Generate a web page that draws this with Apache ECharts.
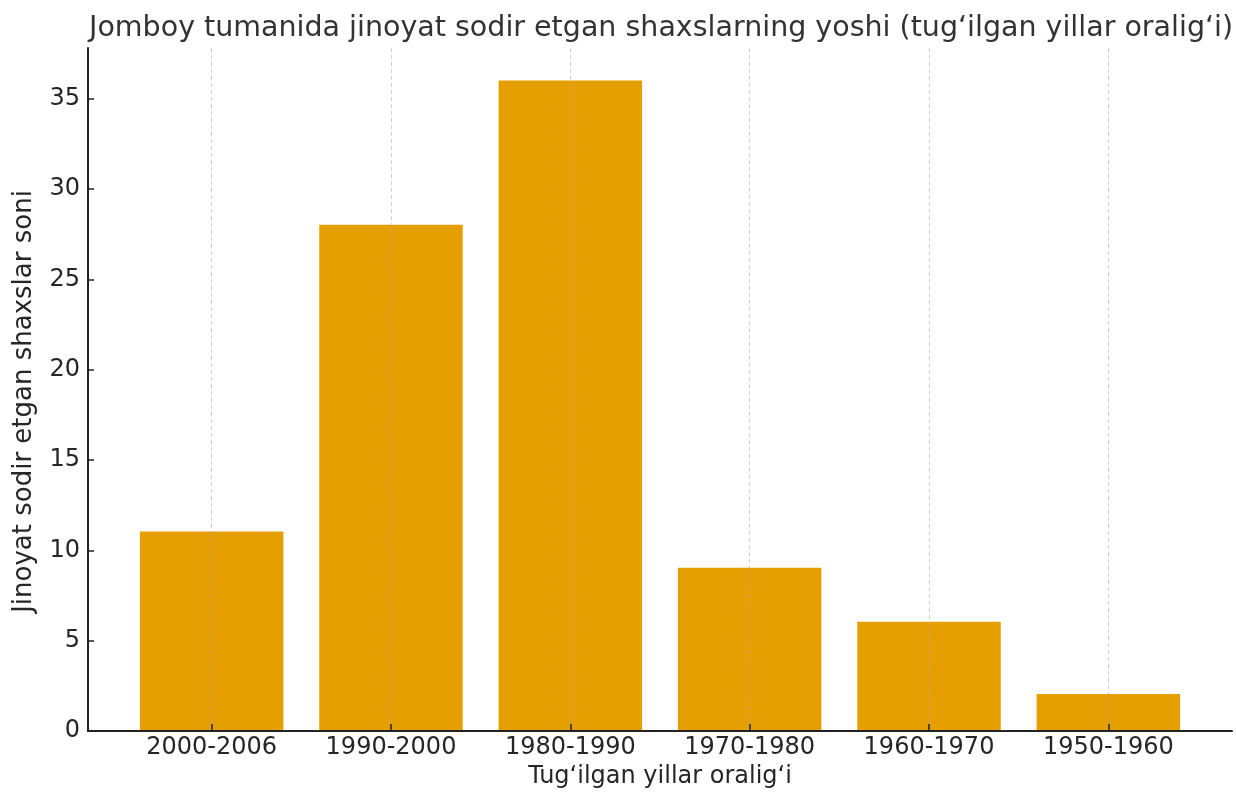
<!DOCTYPE html>
<html>
<head>
<meta charset="utf-8">
<script src="https://cdn.jsdelivr.net/npm/echarts@6/dist/echarts.min.js"></script>
<style>
  html, body { margin: 0; padding: 0; background: #fff; }
  #chart { width: 1236px; height: 794px; }
</style>
</head>
<body>
<div id="chart"></div>
<script>
// ma'lumotlar
const categories = ['2000-2006', '1990-2000', '1980-1990', '1970-1980', '1960-1970', '1950-1960'];
const counts = [11, 28, 36, 9, 6, 2];
const yTicks = [0, 5, 10, 15, 20, 25, 30, 35];
const yMax = 37.8;

const FONT = 'DejaVu Sans';
const TXT = '#262626';

const chart = echarts.init(document.getElementById('chart'));

const option = {
  textStyle: { fontFamily: FONT },
  title: {
    text: 'Jomboy tumanida jinoyat sodir etgan shaxslarning yoshi (tug\u2018ilgan yillar oralig\u2018i)',
    left: 84,
    top: 9,
    textStyle: { fontFamily: FONT, fontSize: 28.5, fontWeight: 'normal', color: '#333' }
  },
  grid: [
    // tashqi chegara (o'qlar chizig'i)
    { left: 88, right: 4, top: 48, bottom: 63 },
    // ustunlar uchun ichki maydon
    { left: 122, right: 38, top: 48, bottom: 63 }
  ],
  xAxis: [
    {
      type: 'value', gridIndex: 0, min: 0, max: 1,
      axisLine: { show: true, lineStyle: { color: '#222', width: 2 } },
      axisTick: { show: false }, axisLabel: { show: false }, splitLine: { show: false }
    },
    {
      type: 'category', gridIndex: 1, data: categories, z: 5,
      name: 'Tug\u2018ilgan yillar oralig\u2018i',
      nameLocation: 'middle', nameGap: 32,
      nameTextStyle: { fontFamily: FONT, fontSize: 24, color: TXT },
      axisLine: { show: false },
      axisTick: { show: true, inside: true, alignWithLabel: true, length: 6, lineStyle: { color: '#222', width: 1.5 } },
      axisLabel: { fontFamily: FONT, fontSize: 24, color: TXT, margin: 6 },
      splitLine: { show: true, alignWithLabel: true, lineStyle: { type: [4, 3], color: 'rgba(170,170,170,0.55)', width: 1 } }
    }
  ],
  yAxis: [
    {
      type: 'value', gridIndex: 0, min: 0, max: yMax,
      name: 'Jinoyat sodir etgan shaxslar soni',
      nameLocation: 'middle', nameGap: 51, nameRotate: 90,
      nameTextStyle: { fontFamily: FONT, fontSize: 26, color: TXT, padding: [0, 24, 0, 0] },
      axisLine: { show: true, lineStyle: { color: '#222', width: 2 } },
      axisTick: { show: true, inside: true, length: 6, customValues: yTicks, lineStyle: { color: '#222', width: 1.5 } },
      axisLabel: { fontFamily: FONT, fontSize: 24, color: TXT, margin: 8, customValues: yTicks },
      splitLine: { show: false }
    },
    {
      type: 'value', gridIndex: 1, min: 0, max: yMax, show: false,
      splitLine: { show: false }
    }
  ],
  series: [
    {
      type: 'bar',
      xAxisIndex: 1,
      yAxisIndex: 1,
      data: counts,
      barWidth: '80%',
      itemStyle: { color: '#E69F00' },
      animation: false
    }
  ],
  animation: false
};

chart.setOption(option);
</script>
</body>
</html>
